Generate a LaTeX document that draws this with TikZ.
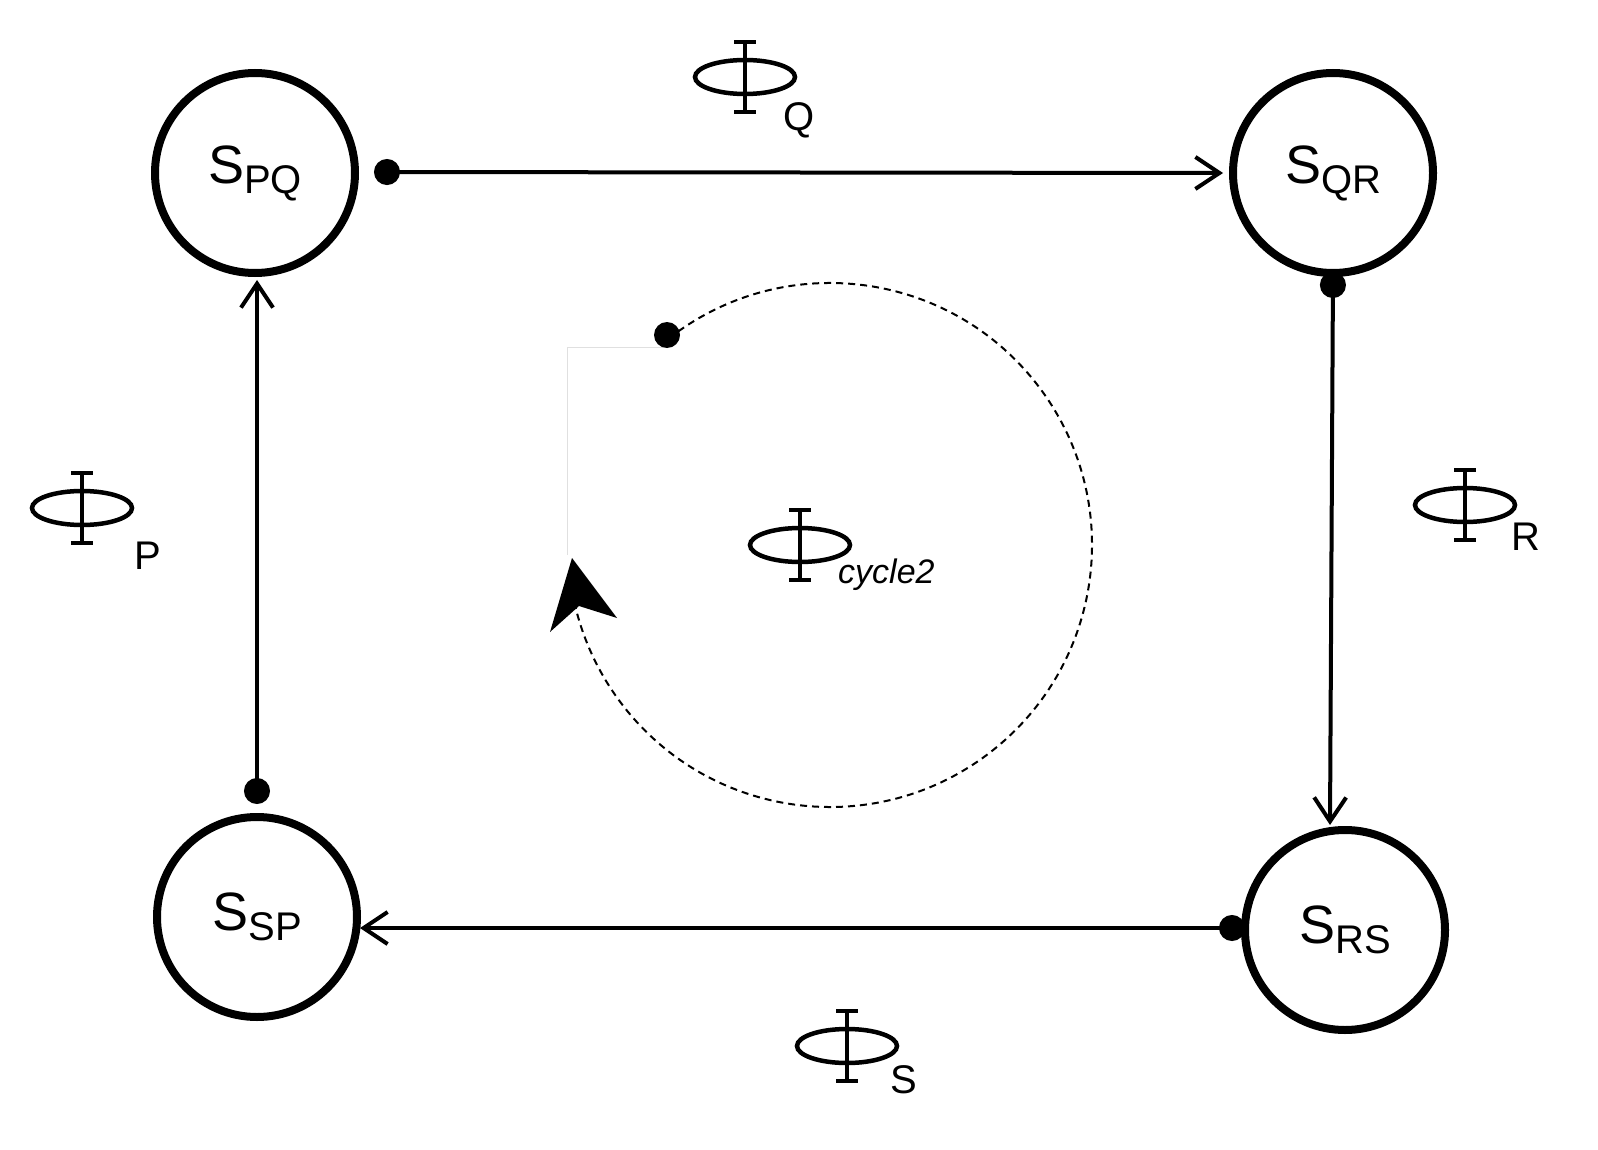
\documentclass[tikz,border=0pt]{standalone}
\usepackage{fontspec}
\setmainfont{Liberation Sans}
\usetikzlibrary{arrows.meta,calc}
\tikzset{
 st/.style={circle,draw,line width=8pt,minimum size=200pt,inner sep=0pt},
 conn/.style={line width=4pt,{Circle[length=26pt]}-{Straight Barb[length=24pt,width=32pt,line width=4pt]}},
 lab/.style={font=\fontsize{54}{64}\selectfont},
 sub/.style={font=\fontsize{40}{46}\selectfont,anchor=base west,inner sep=0pt},
}
\newcommand{\phisym}[1]{%
 \draw[line width=4.5pt] (#1) ellipse (50pt and 17pt);
 \draw[line width=4.5pt] ($(#1)+(0,-35)$) -- ($(#1)+(0,35)$);
 \draw[line width=4.5pt] ($(#1)+(-11,-35)$) -- ($(#1)+(11,-35)$);
 \draw[line width=4.5pt] ($(#1)+(-11,35)$) -- ($(#1)+(11,35)$);}
\begin{document}
\begin{tikzpicture}[x=1pt,y=-1pt]
\useasboundingbox (0,0) rectangle (1598,1150);
\node[st] (pq) at (255,173) {};
\node[st] (qr) at (1333,173) {};
\node[st] (sp) at (257,917) {};
\node[st] (rs) at (1345,930) {};
\node[lab] at (255,173) {S\raisebox{-10pt}{\fontsize{40}{46}\selectfont PQ}};
\node[lab] at (1333,173) {S\raisebox{-10pt}{\fontsize{40}{46}\selectfont QR}};
\node[lab] at (257,917) {S\raisebox{-10pt}{\fontsize{40}{46}\selectfont SP}};
\node[lab] at (1345,930) {S\raisebox{-10pt}{\fontsize{40}{46}\selectfont RS}};
\coordinate (a1) at (374,172); \coordinate (a2) at (1223,173);
\coordinate (b1) at (1333,272); \coordinate (b2) at (1330,825);
\coordinate (c1) at (1245,928); \coordinate (c2) at (360,928);
\coordinate (d1) at (257,804); \coordinate (d2) at (257,280);
\draw[conn] (a1) -- (a2);
\draw[conn] (b1) -- (b2);
\draw[conn] (c1) -- (c2);
\draw[conn] (d1) -- (d2);
\phisym{745,77} \node[sub] at (783,131) {Q};
\phisym{82,508} \node[sub] at (134,569) {P};
\phisym{1465,505} \node[sub] at (1511,550) {R};
\phisym{847,1046} \node[sub] at (890,1093) {S};
\phisym{800,545} \node[sub,font=\fontsize{34}{40}\selectfont\itshape] at (838,583) {cycle2};
\draw[black!12,line width=0.8pt] (667,347) -- (567,347) -- (567,555);
\draw[line width=2pt,dash pattern=on 7pt off 5pt] (830,545) ++(232:262) arc[start angle=232,end angle=528,radius=262];
\fill (667,335) circle (13);
\fill (572,558) -- (617,618) -- (579,606) -- (550,632) -- cycle;
\end{tikzpicture}
\end{document}
